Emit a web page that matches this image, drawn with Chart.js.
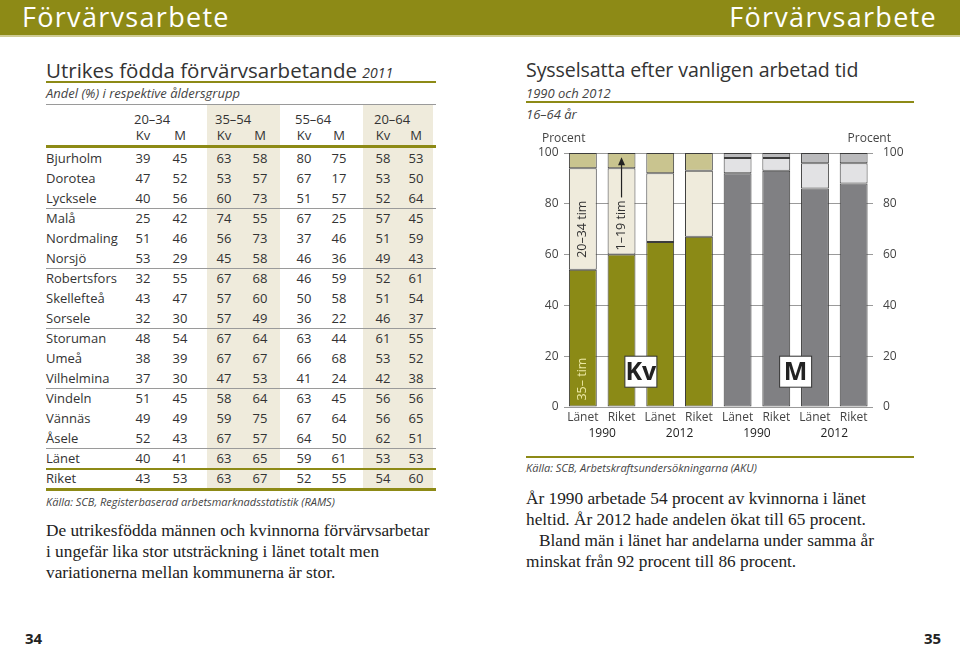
<!DOCTYPE html>
<html lang="sv">
<head>
<meta charset="utf-8">
<script src="https://cdn.jsdelivr.net/npm/chart.js@4.4.1/dist/chart.umd.min.js"></script>
<style>
  html, body { margin: 0; padding: 0; background: #fff; }
  body { width: 960px; height: 645px; position: relative; overflow: hidden; font-family: "Open Sans", "Noto Sans", sans-serif; color: #333; }
  .abs { position: absolute; white-space: nowrap; }
  #header { position: absolute; left: 0; top: 0; width: 960px; height: 35px; background: #8d8a16; border-bottom: 2px solid #cfcb93; }
  .htxt { position: absolute; top: 0; color: #fff; font-size: 27px; line-height: 33px; letter-spacing: 1.3px; }
  .title { font-size: 20.5px; color: #333; line-height: 24px; }
  .title i { font-size: 14px; }
  .sub { font-style: italic; font-size: 13px; color: #444; line-height: 16px; }
  .src { font-style: italic; font-size: 11px; color: #444; line-height: 14px; }
  .body { font-family: "Liberation Serif", "DejaVu Serif", serif; font-size: 17.3px; line-height: 21px; color: #222; }
  .olive { position: absolute; background: #8d8a16; }
  .gray { position: absolute; background: #9a9a9a; }
  .shade { position: absolute; background: #efebdc; }
  .cell { position: absolute; width: 36px; text-align: center; font-size: 13px; line-height: 16px; }
  .lab { position: absolute; font-size: 13px; line-height: 16px; }
  .pg { position: absolute; top: 628px; font-weight: bold; font-size: 15px; font-family: "Open Sans", sans-serif; color: #222; }
  #chartBox { position: absolute; left: 526px; top: 125px; width: 390px; height: 325px; }
</style>
</head>
<body>
<div id="header">
  <div class="htxt" style="left:22px;">Förvärvsarbete</div>
  <div class="htxt" style="right:23px;">Förvärvsarbete</div>
</div>

<!-- left page -->
<div class="abs title" style="left:46px; top:58px;">Utrikes födda förvärvsarbetande <i>2011</i></div>
<div class="olive" style="left:46px; top:81px; width:390px; height:2px;"></div>
<div class="abs sub" style="left:46px; top:85px;">Andel (%) i respektive åldersgrupp</div>
<div id="table"></div>
<div class="abs src" style="left:46px; top:495px;">Källa: SCB, Registerbaserad arbetsmarknadsstatistik (RAMS)</div>
<div class="abs body" style="left:46px; top:520px;">De utrikesfödda männen och kvinnorna förvärvsarbetar<br>i ungefär lika stor utsträckning i länet totalt men<br>variationerna mellan kommunerna är stor.</div>
<div class="pg" style="left:25px;">34</div>

<!-- right page -->
<div class="abs title" style="left:526px; top:58px; font-size:19.6px; letter-spacing:-0.1px;">Sysselsatta efter vanligen arbetad tid</div>
<div class="abs sub" style="left:526px; top:85px;">1990 och 2012</div>
<div class="olive" style="left:526px; top:101px; width:388px; height:2px;"></div>
<div class="abs sub" style="left:526px; top:106px;">16–64 år</div>
<div id="chartBox"><canvas id="chart" width="390" height="325"></canvas></div>
<div class="olive" style="left:526px; top:456px; width:388px; height:2px;"></div>
<div class="abs src" style="left:526px; top:461px;">Källa: SCB, Arbetskraftsundersökningarna (AKU)</div>
<div class="abs body" style="left:526px; top:488px;">År 1990 arbetade 54 procent av kvinnorna i länet<br>heltid. År 2012 hade andelen ökat till 65 procent.<br>&nbsp;&nbsp;&nbsp;Bland män i länet har andelarna under samma år<br>minskat från 92 procent till 86 procent.</div>
<div class="pg" style="left:924px;">35</div>

<script>
// ---- table data (Andel %, Kv/M per age group) ----
const ageGroups = ['20–34', '35–54', '55–64', '20–64'];
const kommuner = ['Bjurholm', 'Dorotea', 'Lycksele', 'Malå', 'Nordmaling', 'Norsjö', 'Robertsfors',
  'Skellefteå', 'Sorsele', 'Storuman', 'Umeå', 'Vilhelmina', 'Vindeln', 'Vännäs', 'Åsele', 'Länet', 'Riket'];
const tableValues = [
  [39, 45, 63, 58, 80, 75, 58, 53],
  [47, 52, 53, 57, 67, 17, 53, 50],
  [40, 56, 60, 73, 51, 57, 52, 64],
  [25, 42, 74, 55, 67, 25, 57, 45],
  [51, 46, 56, 73, 37, 46, 51, 59],
  [53, 29, 45, 58, 46, 36, 49, 43],
  [32, 55, 67, 68, 46, 59, 52, 61],
  [43, 47, 57, 60, 50, 58, 51, 54],
  [32, 30, 57, 49, 36, 22, 46, 37],
  [48, 54, 67, 64, 63, 44, 61, 55],
  [38, 39, 67, 67, 66, 68, 53, 52],
  [37, 30, 47, 53, 41, 24, 42, 38],
  [51, 45, 58, 64, 63, 45, 56, 56],
  [49, 49, 59, 75, 67, 64, 56, 65],
  [52, 43, 67, 57, 64, 50, 62, 51],
  [40, 41, 63, 65, 59, 61, 53, 53],
  [43, 53, 63, 67, 52, 55, 54, 60]
];

// ---- chart data (Sysselsatta efter vanligen arbetad tid, procent) ----
const barLabels = ['Länet', 'Riket', 'Länet', 'Riket', 'Länet', 'Riket', 'Länet', 'Riket'];
const yearLabels = ['1990', '2012', '1990', '2012'];
const sexOfBar = ['Kv', 'Kv', 'Kv', 'Kv', 'M', 'M', 'M', 'M'];
const tim35 = [54, 60, 65, 67, 92, 93, 86, 88];
const tim2034 = [40, 34, 27, 26, 6, 5, 10, 8];
const tim119 = [6, 6, 8, 7, 2, 2, 4, 4];
const yTicks = [0, 20, 40, 60, 80, 100];

// build the table
(function buildTable() {
  const t = document.getElementById('table');
  const colX = [143, 180, 224, 260, 304, 339, 383, 416];
  const rowY0 = 150, rowStep = 20;
  let html = '';
  html += '<div class="gray" style="left:46px;top:104px;width:390px;height:1px;"></div>';
  html += '<div class="shade" style="left:207px;top:105px;width:73px;height:383px;"></div>';
  html += '<div class="shade" style="left:363px;top:105px;width:70px;height:383px;"></div>';
  ageGroups.forEach((g, i) => {
    html += '<div class="lab" style="left:' + (colX[i * 2] - 9) + 'px;top:111px;">' + g + '</div>';
    html += '<div class="cell" style="left:' + (colX[i * 2] - 18) + 'px;top:127px;">Kv</div>';
    html += '<div class="cell" style="left:' + (colX[i * 2 + 1] - 18) + 'px;top:127px;">M</div>';
  });
  html += '<div class="olive" style="left:46px;top:145px;width:390px;height:3px;"></div>';
  kommuner.forEach((k, r) => {
    const y = rowY0 + r * rowStep;
    html += '<div class="lab" style="left:46px;top:' + y + 'px;">' + k + '</div>';
    tableValues[r].forEach((v, c) => {
      html += '<div class="cell" style="left:' + (colX[c] - 18) + 'px;top:' + y + 'px;">' + v + '</div>';
    });
  });
  [2, 5, 8, 11, 14].forEach(r => {
    html += '<div class="gray" style="left:46px;top:' + (rowY0 + (r + 1) * rowStep - 2) + 'px;width:390px;height:1px;"></div>';
  });
  html += '<div class="olive" style="left:46px;top:468px;width:390px;height:2px;"></div>';
  html += '<div class="olive" style="left:46px;top:488px;width:390px;height:3px;"></div>';
  t.innerHTML = html;
})();

// colours by sex
const colHel = { Kv: '#8b8a16', M: '#808083' };
const colDel = { Kv: '#efebdc', M: '#e2e2e4' };
const colKort = { Kv: '#c9c48f', M: '#bababc' };

// annotations drawn inside the plot
const annotations = {
  id: 'annotations',
  afterDatasetsDraw(chart) {
    const { ctx, scales: { x, y } } = chart;
    ctx.save();
    const font = '"Open Sans", sans-serif';

    const rotText = (txt, idx, val, color) => {
      ctx.save();
      ctx.translate(x.getPixelForValue(idx), y.getPixelForValue(val));
      ctx.rotate(-Math.PI / 2);
      ctx.fillStyle = color;
      ctx.font = '12.5px ' + font;
      ctx.textAlign = 'center';
      ctx.textBaseline = 'middle';
      ctx.fillText(txt, 0, 0);
      ctx.restore();
    };
    rotText('20–34 tim', 0, 70, '#333');
    rotText('35– tim', 0, 11, '#ece8a2');
    rotText('1–19 tim', 1, 71.5, '#333');

    // arrow for 1–19 tim
    const ax = x.getPixelForValue(1);
    const a0 = y.getPixelForValue(82.5), a1 = y.getPixelForValue(98.3);
    ctx.strokeStyle = '#222';
    ctx.lineWidth = 1.2;
    ctx.beginPath();
    ctx.moveTo(ax, a0);
    ctx.lineTo(ax, a1 + 4);
    ctx.stroke();
    ctx.fillStyle = '#222';
    ctx.beginPath();
    ctx.moveTo(ax, a1);
    ctx.lineTo(ax - 3.5, a1 + 8);
    ctx.lineTo(ax + 3.5, a1 + 8);
    ctx.closePath();
    ctx.fill();

    // boxed sex labels
    const box = (txt, idx) => {
      const cx = x.getPixelForValue(idx), cy = y.getPixelForValue(13.9);
      ctx.fillStyle = '#fff';
      ctx.fillRect(cx - 16, cy - 15.5, 32, 31);
      ctx.strokeStyle = '#333';
      ctx.lineWidth = 1;
      ctx.strokeRect(cx - 16, cy - 15.5, 32, 31);
      ctx.fillStyle = '#222';
      ctx.font = 'bold 25px ' + font;
      ctx.textAlign = 'center';
      ctx.textBaseline = 'middle';
      ctx.fillText(txt, cx, cy + 1);
    };
    box('Kv', 1.5);
    box('M', 5.5);

    // "Procent" over each y axis
    ctx.fillStyle = '#444';
    ctx.font = '12px ' + font;
    ctx.textBaseline = 'alphabetic';
    ctx.textAlign = 'left';
    ctx.fillText('Procent', 16, y.top - 11);
    ctx.textAlign = 'right';
    ctx.fillText('Procent', chart.width - 25, y.top - 11);
    ctx.restore();
  }
};

const ds = (label, data, colors) => ({
  label,
  data,
  backgroundColor: sexOfBar.map(s => colors[s]),
  borderColor: '#3c3c3c',
  borderWidth: 1,
  borderSkipped: false,
  categoryPercentage: 1,
  barPercentage: 0.72,
  xAxisID: 'x'
});

const tickFont = { size: 12, family: '"Open Sans", sans-serif' };

new Chart(document.getElementById('chart'), {
  type: 'bar',
  data: {
    labels: barLabels,
    datasets: [
      ds('35– tim', tim35, colHel),
      ds('20–34 tim', tim2034, colDel),
      ds('1–19 tim', tim119, colKort)
    ]
  },
  options: {
    responsive: false,
    animation: false,
    layout: { padding: { top: 28, bottom: 0, left: 0, right: 0 } },
    plugins: { legend: { display: false }, tooltip: { enabled: false } },
    scales: {
      x: {
        stacked: true,
        offset: true,
        grid: { display: false, drawTicks: false },
        border: { display: false },
        ticks: { color: '#444', font: tickFont, padding: 3, maxRotation: 0 },
        afterFit: s => { s.height = 17; }
      },
      x2: {
        type: 'category',
        labels: yearLabels,
        position: 'bottom',
        offset: true,
        grid: { display: false, drawTicks: false },
        border: { display: false },
        ticks: { color: '#222', font: tickFont, padding: 2, maxRotation: 0 },
        afterFit: s => { s.height = 26; }
      },
      y: {
        stacked: true,
        min: 0,
        max: 100,
        afterBuildTicks: s => { s.ticks = yTicks.map(v => ({ value: v })); },
        grid: { color: '#9a9a9a', lineWidth: 1, drawTicks: false },
        border: { display: false },
        ticks: { color: '#444', font: tickFont, padding: 5 },
        afterFit: s => { s.width = 37.5; }
      },
      y2: {
        position: 'right',
        min: 0,
        max: 100,
        afterBuildTicks: s => { s.ticks = yTicks.map(v => ({ value: v })); },
        grid: { display: false },
        border: { display: false },
        ticks: { color: '#444', font: tickFont, padding: 2 },
        afterFit: s => { s.width = 43; }
      }
    }
  },
  plugins: [annotations]
});
</script>
</body>
</html>
